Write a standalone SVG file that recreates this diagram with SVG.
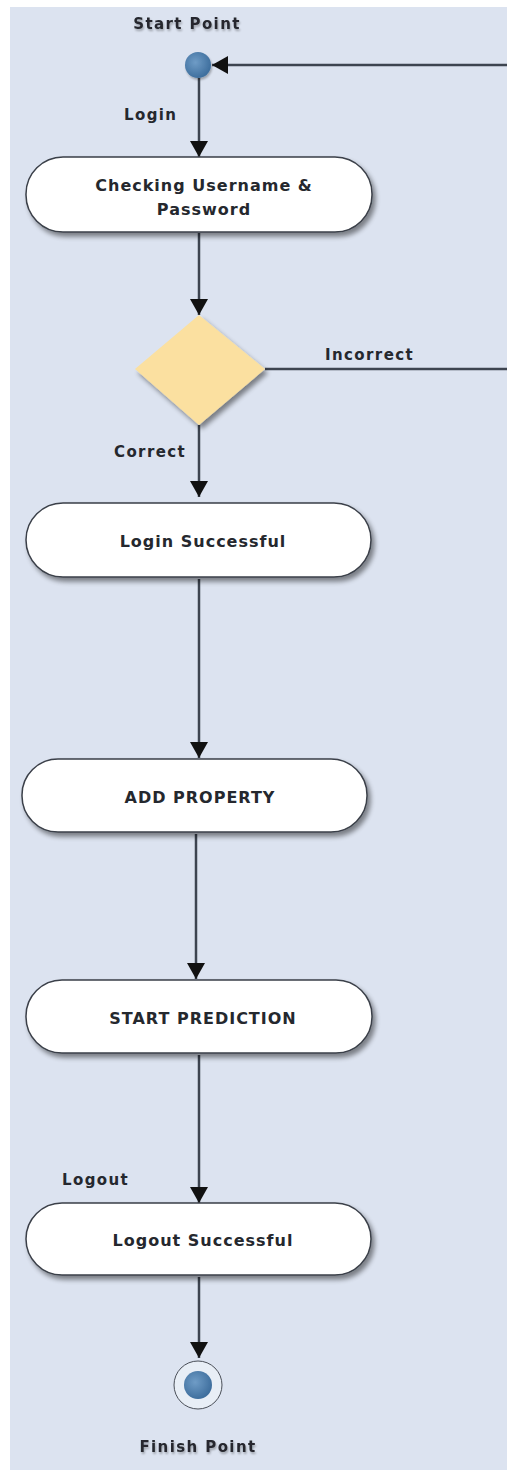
<svg xmlns="http://www.w3.org/2000/svg" width="507" height="1472" viewBox="0 0 507 1472">
<defs>
<style>
.lbl{font-family:"DejaVu Sans","Liberation Sans",sans-serif;font-weight:bold;fill:#25282e;}
.sm{font-size:15px;letter-spacing:1.4px;}
.nt{font-size:16px;letter-spacing:1px;}
.node{fill:#ffffff;stroke:#3a3f48;stroke-width:1.5;}
.conn{stroke:#3d4450;stroke-width:2.5;fill:none;}
</style>
<marker id="arr" viewBox="0 0 16 22" refX="16" refY="11" markerWidth="16" markerHeight="22" markerUnits="userSpaceOnUse" orient="auto">
<path d="M0,2 L16,11 L0,20 Z" fill="#111"/>
</marker>
<filter id="sh" x="-10%" y="-20%" width="125%" height="150%">
<feGaussianBlur in="SourceAlpha" stdDeviation="2.5"/>
<feOffset dx="3" dy="4" result="b"/>
<feComponentTransfer><feFuncA type="linear" slope="0.45"/></feComponentTransfer>
<feMerge><feMergeNode/><feMergeNode in="SourceGraphic"/></feMerge>
</filter>
<filter id="tsh" x="-10%" y="-30%" width="120%" height="180%">
<feGaussianBlur in="SourceAlpha" stdDeviation="1.2"/>
<feOffset dx="1" dy="2" result="b"/>
<feComponentTransfer><feFuncA type="linear" slope="0.3"/></feComponentTransfer>
<feMerge><feMergeNode/><feMergeNode in="SourceGraphic"/></feMerge>
</filter>
<radialGradient id="blue" cx="40%" cy="40%" r="60%">
<stop offset="0" stop-color="#6f9cc6"/>
<stop offset="1" stop-color="#3f6f9e"/>
</radialGradient>
</defs>
<rect x="0" y="0" width="507" height="1472" fill="#ffffff"/>
<rect x="10" y="7" width="497" height="1463" fill="#dce3f0"/>

<g id="connectors">
<path class="conn" d="M507,65 L212,65" marker-end="url(#arr)"/>
<path class="conn" d="M199,78 L199,157" marker-end="url(#arr)"/>
<path class="conn" d="M199,233 L199,315" marker-end="url(#arr)"/>
<path class="conn" d="M265,369 L507,369"/>
<path class="conn" d="M199,425 L199,497" marker-end="url(#arr)"/>
<path class="conn" d="M199,579 L199,758" marker-end="url(#arr)"/>
<path class="conn" d="M196,834 L196,979" marker-end="url(#arr)"/>
<path class="conn" d="M199,1055 L199,1203" marker-end="url(#arr)"/>
<path class="conn" d="M199,1277 L199,1358" marker-end="url(#arr)"/>
<text class="lbl sm" x="124" y="120">Login</text>
<text class="lbl sm" x="325" y="360">Incorrect</text>
<text class="lbl sm" x="114" y="457">Correct</text>
<text class="lbl sm" x="62" y="1185">Logout</text>
</g>

<g id="start">
<circle cx="198" cy="65" r="13" fill="url(#blue)" filter="url(#tsh)"/>
<text class="lbl sm" x="187" y="29" text-anchor="middle" filter="url(#tsh)">Start Point</text>
</g>

<g id="check">
<rect class="node" x="26" y="157" width="346" height="75" rx="37" filter="url(#sh)"/>
<text class="lbl nt" x="204" y="191" text-anchor="middle">Checking Username &amp;</text>
<text class="lbl nt" x="204" y="215" text-anchor="middle">Password</text>
</g>

<g id="decision">
<path d="M199,315 L265,369 L199,425 L135,369 Z" fill="#fbe0a0" filter="url(#sh)"/>
</g>

<g id="loginok">
<rect class="node" x="26" y="503" width="345" height="74" rx="37" filter="url(#sh)"/>
<text class="lbl nt" x="203" y="547" text-anchor="middle">Login Successful</text>
</g>

<g id="addprop">
<rect class="node" x="22" y="759" width="345" height="73" rx="36" filter="url(#sh)"/>
<text class="lbl nt" x="200" y="803" text-anchor="middle">ADD PROPERTY</text>
</g>

<g id="predict">
<rect class="node" x="26" y="980" width="346" height="73" rx="36" filter="url(#sh)"/>
<text class="lbl nt" x="203" y="1024" text-anchor="middle">START PREDICTION</text>
</g>

<g id="logoutok">
<rect class="node" x="26" y="1203" width="345" height="72" rx="36" filter="url(#sh)"/>
<text class="lbl nt" x="203" y="1246" text-anchor="middle">Logout Successful</text>
</g>

<g id="finish">
<circle cx="198" cy="1385" r="24" fill="#e8eef6" stroke="#4a4f58" stroke-width="1"/>
<circle cx="198" cy="1385" r="14" fill="url(#blue)"/>
<text class="lbl sm" x="198" y="1452" text-anchor="middle" filter="url(#tsh)">Finish Point</text>
</g>
</svg>
